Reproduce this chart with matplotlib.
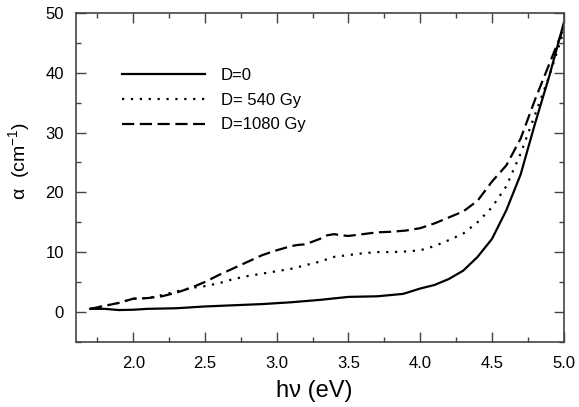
import matplotlib
matplotlib.use("Agg")
import matplotlib.pyplot as plt
from matplotlib.ticker import MultipleLocator

plt.rcParams['font.family'] = ['Liberation Sans', 'DejaVu Sans']
plt.rcParams['mathtext.fontset'] = 'custom'
plt.rcParams['mathtext.rm'] = 'Liberation Sans'

# D=0 (solid)
x0 = [1.70,1.80,1.90,2.00,2.10,2.30,2.50,2.70,2.90,3.10,3.30,3.50,3.70,3.88,4.00,4.10,4.20,4.30,4.40,4.50,4.60,4.70,4.80,4.90,5.00]
y0 = [0.5,0.5,0.3,0.35,0.5,0.6,0.9,1.1,1.3,1.6,2.0,2.5,2.6,3.0,3.9,4.5,5.5,6.9,9.2,12.2,17.0,23.0,31.5,39.5,48.3]

# D=540 Gy (dotted)
x540 = [1.70,1.80,1.90,2.00,2.10,2.20,2.30,2.40,2.50,2.60,2.70,2.80,2.90,3.00,3.10,3.20,3.30,3.40,3.50,3.60,3.70,3.80,3.90,4.00,4.10,4.20,4.30,4.40,4.50,4.60,4.70,4.80,4.90,5.00]
y540 = [0.5,1.0,1.5,2.2,2.3,2.8,3.4,4.0,4.3,4.8,5.5,6.0,6.4,6.8,7.2,7.8,8.4,9.2,9.5,9.8,10.0,10.0,10.1,10.3,11.0,12.0,13.1,15.0,17.5,21.0,26.5,33.0,39.5,47.0]

# D=1080 Gy (dashed)
x1080 = [1.70,1.80,1.90,2.00,2.10,2.20,2.30,2.40,2.50,2.60,2.70,2.80,2.90,3.00,3.10,3.15,3.20,3.30,3.35,3.40,3.45,3.50,3.60,3.70,3.80,3.90,4.00,4.10,4.20,4.30,4.40,4.50,4.60,4.70,4.80,4.90,5.00]
y1080 = [0.5,1.0,1.5,2.2,2.3,2.6,3.2,4.0,5.0,6.2,7.3,8.4,9.5,10.3,11.0,11.2,11.3,12.2,12.8,13.0,12.8,12.7,13.0,13.3,13.4,13.6,14.0,14.8,15.8,16.8,18.6,21.8,24.5,29.0,35.5,41.5,47.5]

labels = ["D=0", "D= 540 Gy", "D=1080 Gy"]

fig = plt.figure(figsize=(5.79, 4.07), dpi=100)
ax = fig.add_axes([0.131, 0.1604, 0.8426, 0.8076])

ax.plot(x0, y0, color='black', lw=1.6, ls='-', label=labels[0])
ax.plot(x540, y540, color='black', lw=1.6, ls=(0, (1, 3)), label=labels[1])
ax.plot(x1080, y1080, color='black', lw=1.6, ls=(0, (5.5, 2.5)), label=labels[2])

ax.set_xlim(1.6, 5.0)
ax.set_ylim(-5, 50)
ax.xaxis.set_major_locator(MultipleLocator(0.5))
ax.xaxis.set_minor_locator(MultipleLocator(0.25))
ax.yaxis.set_major_locator(MultipleLocator(10))
ax.yaxis.set_minor_locator(MultipleLocator(5))
ax.set_xticks([2.0, 2.5, 3.0, 3.5, 4.0, 4.5, 5.0])
ax.set_xticklabels(["2.0", "2.5", "3.0", "3.5", "4.0", "4.5", "5.0"])

for s in ax.spines.values():
    s.set_color('#444444')
    s.set_linewidth(1.2)
ax.tick_params(which='both', direction='in', top=True, right=True, color='#444444', labelsize=12)
ax.tick_params(which='major', length=7, width=1)
ax.tick_params(which='minor', length=3.5, width=1)
ax.tick_params(axis='x', pad=10)
ax.tick_params(axis='y', pad=8.5)

ax.set_xlabel("h\u03bd (eV)", fontsize=17)
ax.set_ylabel("\u03b1  (cm$^{-1}$)", fontsize=14)
ax.xaxis.set_label_coords(0.488, -0.115)
ax.yaxis.set_label_coords(-0.088, 0.55)

leg = ax.legend(loc='upper left', bbox_to_anchor=(0.063, 0.878), frameon=False,
                fontsize=12, handlelength=5.0, handletextpad=0.95, labelspacing=0.58)

fig.savefig("out.png", dpi=100)
